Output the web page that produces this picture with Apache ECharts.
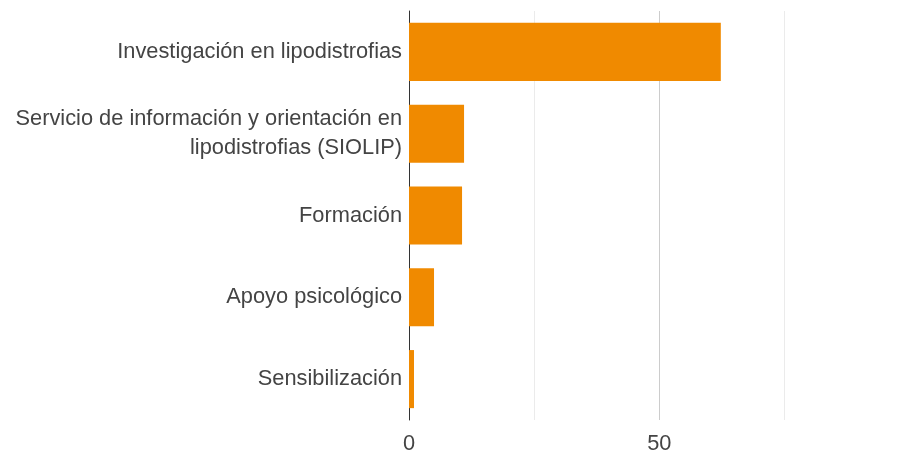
<!DOCTYPE html>
<html>
<head>
<meta charset="utf-8">
<script src="https://cdn.jsdelivr.net/npm/echarts@6/dist/echarts.min.js"></script>
<style>html,body{margin:0;padding:0;background:#fff}#c{width:903px;height:455px}</style>
</head>
<body>
<div id="c"></div>
<script>
const categories = [
  "Investigación en lipodistrofias",
  "Servicio de información y orientación en\nlipodistrofias (SIOLIP)",
  "Formación",
  "Apoyo psicológico",
  "Sensibilización"
];
const values = [62.3, 11, 10.6, 5, 1];
const xMin = 0, xMax = 98.7, xInterval = 25;
const xLabelStep = 50;

const chart = echarts.init(document.getElementById('c'), null, {renderer: 'canvas'});
chart.setOption({
  animation: false,
  backgroundColor: '#fff',
  textStyle: {fontFamily: 'Liberation Sans, Arial, sans-serif'},
  grid: {left: 409, top: 11, right: 0, height: 409, containLabel: false},
  xAxis: {
    type: 'value', min: xMin, max: xMax, interval: xInterval,
    axisLine: {show: false}, axisTick: {show: false},
    axisLabel: {color: '#444', fontSize: 21.8, margin: 13, showMaxLabel: false,
      fontFamily: 'Liberation Sans, Arial, sans-serif',
      formatter: v => (v % xLabelStep === 0 ? String(v) : '')},
    splitLine: {show: true, lineStyle: {color: ['#cccccc', '#ebebeb'], width: 1}}
  },
  yAxis: {
    type: 'category', data: categories, inverse: true,
    axisLine: {show: true, lineStyle: {color: '#333', width: 1}},
    axisTick: {show: false},
    axisLabel: {color: '#444', fontSize: 21.8, margin: 7, lineHeight: 29, align: 'right',
      fontFamily: 'Liberation Sans, Arial, sans-serif'}
  },
  series: [{
    type: 'bar', data: values, barCategoryGap: '29%',
    itemStyle: {color: '#F08A00'}
  }]
});
</script>
</body>
</html>
